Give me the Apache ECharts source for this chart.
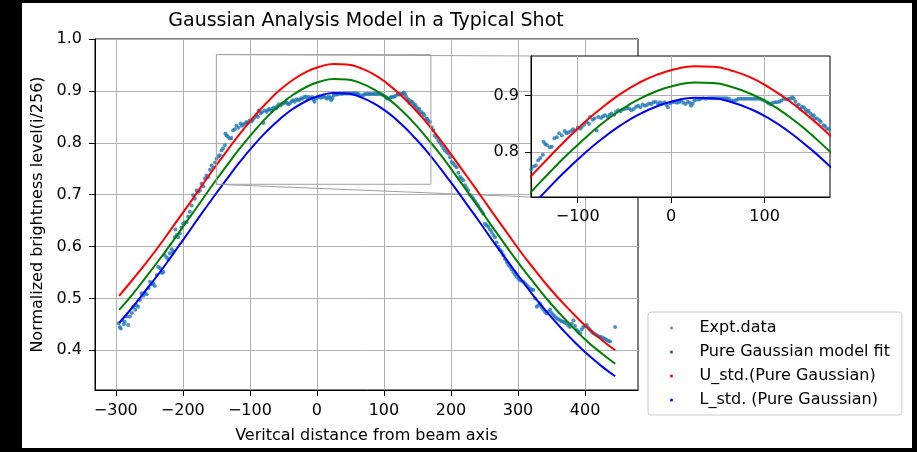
<!DOCTYPE html>
<html>
<head>
<meta charset="utf-8">
<script src="https://cdn.jsdelivr.net/npm/echarts@6/dist/echarts.min.js"></script>
<style>
  html, body { margin: 0; padding: 0; background: #000; }
  #paper { position: absolute; left: 22px; top: 3px; width: 890px; height: 445px; background: #fff; }
  #chart { position: absolute; left: 0; top: 0; width: 917px; height: 452px; }
</style>
</head>
<body>
<div id="paper"></div>
<div id="chart"></div>
<script>
// model curves, every 20 units
const curveX = [-295,-275,-255,-235,-215,-195,-175,-155,-135,-115,-95,-75,-55,-35,-15,5,25,45,65,85,105,125,145,165,185,205,225,245,265,285,305,325,345,365,385,405,425,445]
const fitY = [0.478,0.508,0.541,0.575,0.610,0.647,0.683,0.720,0.755,0.789,0.820,0.849,0.873,0.893,0.908,0.918,0.923,0.922,0.915,0.903,0.886,0.864,0.838,0.808,0.776,0.741,0.705,0.669,0.632,0.596,0.561,0.528,0.496,0.467,0.440,0.415,0.394,0.374]
const upperY = [0.505,0.536,0.568,0.602,0.638,0.674,0.711,0.748,0.783,0.817,0.849,0.877,0.902,0.922,0.937,0.947,0.952,0.951,0.944,0.932,0.914,0.892,0.866,0.837,0.804,0.769,0.733,0.697,0.660,0.624,0.588,0.555,0.523,0.494,0.467,0.442,0.420,0.400]
const lowerY = [0.453,0.483,0.516,0.549,0.585,0.621,0.658,0.694,0.729,0.763,0.794,0.822,0.846,0.866,0.881,0.891,0.896,0.895,0.888,0.876,0.859,0.837,0.811,0.782,0.749,0.715,0.679,0.643,0.606,0.571,0.536,0.502,0.471,0.442,0.415,0.391,0.369,0.350]

// measured points [x, brightness]
const exptRise = [[-295.5,0.452],[-294,0.445],[-292.5,0.442],[-290,0.458],[-288,0.450],[-286.6,0.455],[-284,0.465],[-281.6,0.449],[-279,0.465],[-276,0.472],[-274,0.484],[-271,0.478],[-269,0.487],[-266.7,0.484],[-264,0.497],[-261.7,0.510],[-259,0.505],[-256.7,0.511],[-254,0.508],[-251,0.520],[-249,0.532],[-246,0.527],[-244,0.529],[-241.8,0.524],[-239,0.545],[-236.8,0.561],[-234,0.558],[-231,0.549],[-229,0.551],[-226.9,0.583],[-224,0.579],[-221.5,0.575],[-219.4,0.587],[-216.5,0.595],[-214.5,0.590],[-212,0.618],[-211,0.633],[-209,0.622],[-207,0.618],[-204.5,0.625],[-202,0.636],[-199.5,0.644],[-197,0.647],[-194.5,0.647],[-192,0.658],[-189.5,0.667],[-187,0.679],[-184.6,0.699],[-182,0.692],[-179.6,0.708],[-177,0.705],[-174.6,0.708],[-172,0.721],[-169.5,0.716],[-167,0.731],[-164.6,0.737],[-162,0.734],[-159.5,0.748],[-157,0.756],[-154.5,0.752],[-152,0.762]]
const exptCrest = [[-149.7,0.769],[-147,0.774],[-144.8,0.776],[-142.3,0.785],[-140,0.789],[-137.3,0.795],[-136.5,0.818],[-134.8,0.814],[-133,0.812],[-130,0.808],[-127.7,0.809],[-125,0.824],[-122.3,0.826],[-120,0.833],[-117,0.829],[-114,0.837],[-112,0.833],[-110,0.835],[-107,0.837],[-105,0.840],[-102.8,0.838],[-100,0.843],[-97.5,0.841],[-95.7,0.844],[-93,0.848],[-90.4,0.853],[-88,0.850],[-86.8,0.862],[-84,0.857],[-82,0.859],[-79.8,0.838],[-78,0.862],[-75,0.860],[-73,0.863],[-70.9,0.865],[-68,0.862],[-66,0.866],[-63.8,0.868],[-61,0.866],[-59,0.871],[-56.7,0.874],[-54,0.872],[-52,0.875],[-49.6,0.876],[-47,0.878],[-45,0.877],[-42.6,0.874],[-40,0.876],[-37.5,0.880],[-35.4,0.882],[-33,0.879],[-30.5,0.884],[-28.3,0.882],[-26,0.883],[-23.5,0.886],[-21.3,0.885],[-19,0.888],[-16.5,0.889],[-14.1,0.885],[-12,0.888],[-9.5,0.886],[-7,0.888],[-5,0.883],[-3.5,0.879],[-1,0.886],[1.5,0.888],[3.6,0.889],[6,0.887],[8.5,0.888],[10.6,0.891],[13,0.887],[15.5,0.885],[17.8,0.889],[20,0.887],[21.3,0.882],[23,0.886],[24.9,0.891],[27.5,0.893],[30,0.893],[31.9,0.894],[34.5,0.895],[37,0.894],[39.5,0.895],[42,0.895],[44.5,0.895],[47,0.895],[49.5,0.895],[52,0.895],[54.5,0.895],[57,0.895],[59.5,0.895],[62,0.894],[64.5,0.891],[67.4,0.891],[70,0.892],[72,0.894],[74.5,0.894],[77,0.894],[79.5,0.894],[82,0.894],[84.5,0.894],[87,0.894],[89.5,0.894],[92,0.894],[94.5,0.894],[97,0.893],[99.5,0.891],[102.9,0.888],[104.5,0.886],[106.4,0.885],[109,0.887],[111,0.888],[113.5,0.888],[116,0.889],[118,0.891],[120.6,0.894],[123,0.893],[125.5,0.894],[127.7,0.894],[129.5,0.897],[131.3,0.894],[133,0.889],[134.8,0.882],[136.5,0.884],[138.3,0.876],[140,0.880],[141.9,0.879],[143.8,0.875],[145.4,0.871],[147,0.873],[149,0.868],[151,0.864],[152.6,0.865],[154,0.859],[156,0.859],[158.7,0.856],[160,0.853],[163.2,0.847],[164.5,0.846],[166.5,0.842],[168.7,0.840]]
const exptFall = [[171.2,0.830],[173.5,0.824],[176.1,0.814],[178.5,0.810],[181.1,0.804],[183.5,0.800],[186.1,0.795],[188.5,0.790],[191,0.785],[193.5,0.782],[196,0.779],[198.5,0.772],[201,0.763],[203.5,0.760],[206,0.756],[208.5,0.753],[211,0.742],[213.4,0.734],[216,0.731],[218.4,0.728],[220.9,0.718],[223.5,0.713],[225.8,0.708],[228.5,0.700],[231,0.696],[233.3,0.692],[235.8,0.688],[238.3,0.683],[240.8,0.678],[243.3,0.673],[245.8,0.668],[248.2,0.663],[250.7,0.644],[253.2,0.641],[255.7,0.638],[258.2,0.633],[260.7,0.628],[263.2,0.622],[265.7,0.618],[268.2,0.608],[270.6,0.599],[273,0.594],[275.6,0.590],[278.1,0.583],[280.6,0.576],[283.1,0.570],[285.6,0.565],[288.1,0.561],[290.5,0.556],[293,0.551],[295.5,0.546],[298,0.542],[300.5,0.538],[303,0.535],[305.5,0.534],[308,0.532],[310.5,0.529],[313,0.526],[315.5,0.522],[317.9,0.519],[320.4,0.517],[322.9,0.516],[325.4,0.500],[327.9,0.484],[330.4,0.487],[332.8,0.490],[335.3,0.483],[337.8,0.478],[340.3,0.474],[342.8,0.471],[345.3,0.475],[347.8,0.478],[350.2,0.472],[352.7,0.468],[355.2,0.465],[357.7,0.462],[360.2,0.460],[362.7,0.458],[365.2,0.456],[367.6,0.455],[370.1,0.453],[372.6,0.452],[375.1,0.448],[377.6,0.445],[380.1,0.451],[382.6,0.458],[385.1,0.447],[387.6,0.439],[390,0.436],[392.5,0.433],[395,0.440],[397.5,0.445],[400,0.447],[402.5,0.449],[405,0.443],[407.5,0.439],[410,0.436],[412.4,0.433],[415,0.431],[417.4,0.429],[420,0.427],[422.4,0.426],[425,0.425],[427.4,0.423],[430,0.422],[432.4,0.420],[435,0.418],[437.3,0.417],[444.8,0.445]]

// ticks
const xTicks = [-300,-200,-100,0,100,200,300,400]
const yTicks = [0.4,0.5,0.6,0.7,0.8,0.9,1.0]
const insetXTicks = [-100,0,100]
const insetYTicks = [0.8,0.9]
const insetXRange = [-150,170]
const insetYRange = [0.72,0.97]

const names = ["Expt.data","Pure Gaussian model fit","U_std.(Pure Gaussian)","L_std. (Pure Gaussian)"]
const colors = ["#1f77b4","#008000","#ff0000","#0000ff"]
const font = "DejaVu Sans"

const expt = exptRise.concat(exptCrest, exptFall)
const zip = ys => curveX.map((x, i) => [x, ys[i]])
const curves = [zip(fitY), zip(upperY), zip(lowerY)]
const fmtX = v => (v < 0 ? "\u2212" + Math.abs(v) : String(v))
const fmtY = v => v.toFixed(1)

function makeAxis(gridIndex, min, max, ticks, fmt, margin, extra) {
  return Object.assign({
    type: "value",
    gridIndex,
    min, max,
    axisLine: { show: true, onZero: false, lineStyle: { color: "#000", width: 1 } },
    axisTick: { show: true, customValues: ticks, length: 6, lineStyle: { color: "#000", width: 1 } },
    axisLabel: { customValues: ticks, formatter: fmt, color: "#000", fontSize: 16, fontFamily: font, margin },
    splitLine: { show: true, lineStyle: { color: "#b0b0b0", width: 1 } },
    zlevel: gridIndex
  }, extra || {})
}

function makeSeries(gridIndex) {
  const list = [{
    name: names[0], type: "scatter", data: expt,
    xAxisIndex: gridIndex, yAxisIndex: gridIndex, zlevel: gridIndex,
    symbolSize: 4, itemStyle: { color: colors[0] }, silent: true
  }]
  curves.forEach((c, i) => {
    list.push({
      name: names[i + 1], type: "line", data: c,
      xAxisIndex: gridIndex, yAxisIndex: gridIndex, zlevel: gridIndex,
      smooth: true, showSymbol: false, silent: true,
      itemStyle: { color: colors[i + 1] },
      lineStyle: { color: colors[i + 1], width: 2 }
    })
  })
  return list
}

const [x0, x1] = insetXRange
const [y0, y1] = insetYRange

const option = {
  animation: false,
  title: {
    text: "Gaussian Analysis Model in a Typical Shot",
    left: 366, top: 12, padding: 0, textAlign: "center",
    textStyle: { fontSize: 19, fontWeight: "normal", color: "#000", fontFamily: font }
  },
  legend: {
    orient: "vertical", left: 648, top: 312,
    itemWidth: 46, itemHeight: 3, itemGap: 8,
    padding: [8, 12, 7, 22],
    borderColor: "#cccccc", borderWidth: 1, borderRadius: 3, backgroundColor: "#fff",
    textStyle: { fontSize: 16, lineHeight: 16, color: "#000", fontFamily: font },
    data: names.map(n => ({ name: n, icon: "circle" }))
  },
  grid: [
    { left: 95, top: 39, right: 279, bottom: 62, show: true, borderColor: "#000", borderWidth: 1 },
    { left: 531, top: 56, width: 299, height: 141, show: true, backgroundColor: "#fff", borderColor: "#000", borderWidth: 1, zlevel: 1 }
  ],
  xAxis: [
    makeAxis(0, -331, 479, xTicks, fmtX, 13, {
      name: "Veritcal distance from beam axis", nameLocation: "middle", nameGap: 38,
      nameTextStyle: { fontSize: 16, color: "#000", fontFamily: font }
    }),
    makeAxis(1, x0, x1, insetXTicks, fmtX, 12)
  ],
  yAxis: [
    makeAxis(0, 0.3235, 1.0, yTicks, fmtY, 13, {
      name: "Normalized brightness level(i/256)", nameLocation: "middle", nameGap: 41,
      nameTextStyle: { fontSize: 16, color: "#000", fontFamily: font }
    }),
    makeAxis(1, y0, y1, insetYTicks, fmtY, 12)
  ],
  series: makeSeries(0).concat(makeSeries(1), [{
    // zoom box drawn on the main axes
    type: "line", xAxisIndex: 0, yAxisIndex: 0, silent: true, showSymbol: false,
    data: [[x0, y0], [x1, y0], [x1, y1], [x0, y1], [x0, y0]],
    lineStyle: { color: "#a0a0a0", width: 1 }, z: 3
  }])
}

const chart = echarts.init(document.getElementById("chart"))
chart.setOption(option)

// connector lines from the box corners to the inset corners
const a1 = chart.convertToPixel({ gridIndex: 0 }, [x0, y1])
const b1 = chart.convertToPixel({ gridIndex: 1 }, [x0, y1])
const a2 = chart.convertToPixel({ gridIndex: 0 }, [x0, y0])
const b2 = chart.convertToPixel({ gridIndex: 1 }, [x0, y0])
chart.setOption({
  graphic: [
    { type: "line", shape: { x1: a1[0], y1: a1[1], x2: b1[0], y2: b1[1] }, style: { stroke: "#a0a0a0", lineWidth: 1 }, z: 3 },
    { type: "line", shape: { x1: a2[0], y1: a2[1], x2: b2[0], y2: b2[1] }, style: { stroke: "#a0a0a0", lineWidth: 1 }, z: 3 }
  ]
})
</script>
</body>
</html>
